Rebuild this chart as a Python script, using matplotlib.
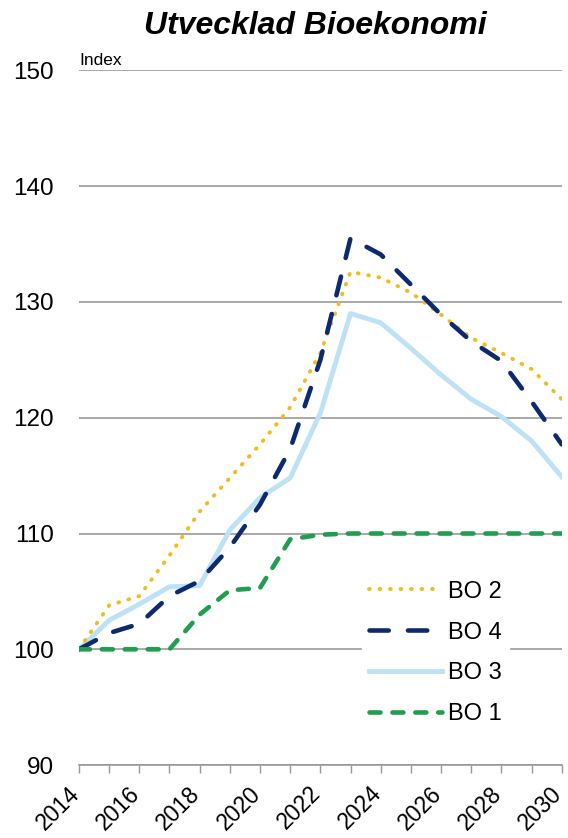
import matplotlib
matplotlib.use("Agg")
import matplotlib.pyplot as plt
from matplotlib.transforms import ScaledTranslation

years = list(range(2014, 2031))
bo2 = [100.0, 103.8, 104.6, 108.1, 111.9, 114.8, 117.7, 120.9, 125.6, 132.6, 132.1, 130.8, 128.9, 126.9, 125.6, 124.2, 121.6]
bo4 = [100.0, 101.4, 102.2, 104.6, 105.9, 108.8, 112.5, 117.3, 125.0, 135.5, 134.1, 131.5, 128.9, 126.6, 124.9, 121.4, 117.7]
bo3 = [100.0, 102.5, 103.9, 105.4, 105.5, 110.3, 113.1, 114.8, 120.4, 129.0, 128.2, 126.0, 123.7, 121.6, 120.1, 118.0, 114.9]
bo1 = [100.0, 100.0, 100.0, 100.0, 103.0, 105.1, 105.3, 109.5, 109.9, 110.0, 110.0, 110.0, 110.0, 110.0, 110.0, 110.0, 110.0]
yticks = [90, 100, 110, 120, 130, 140, 150]
xticks = list(range(2014, 2031, 2))

plt.rcParams['font.family'] = ['Liberation Sans', 'DejaVu Sans']

fig = plt.figure(figsize=(5.68, 8.38), dpi=100)
ax = fig.add_axes([0.139, 0.087, 0.850, 0.829])

ax.plot(years, bo2, color='#F3BC1C', lw=2.8, linestyle=(0, (0.2, 2.5)), dash_capstyle='round', label='BO 2', zorder=4)
ax.plot(years, bo4, color='#0E2A6E', lw=3.3, linestyle=(0, (4.2, 4.2)), dash_capstyle='round', label='BO 4', zorder=5)
ax.plot(years, bo3, color='#BEE2F5', lw=3.5, linestyle='-', label='BO 3', zorder=3)
ax.plot(years, bo1, color='#1E9E4E', lw=3.3, linestyle=(0, (2.4, 2.6)), dash_capstyle='round', label='BO 1', zorder=6)

ax.set_xlim(2014, 2030)
ax.set_ylim(90, 150)
ax.set_yticks(yticks)
ax.set_xticks(years)
ax.set_xticklabels([str(y) if y in xticks else '' for y in years], rotation=45, ha='right', va='center',
                   rotation_mode='anchor', fontsize=16.5)
ax.tick_params(axis='x', direction='out', length=6, color='#999999', width=1, pad=12)
ax.tick_params(axis='y', length=0, labelsize=17.5, pad=18)
off = ScaledTranslation(-3 / 100, 0, fig.dpi_scale_trans)
for lab in ax.get_xticklabels():
    lab.set_transform(lab.get_transform() + off)
ax.grid(axis='y', color='#999999', lw=1.2, zorder=0)
ax.set_axisbelow(True)
for s in ['top', 'right', 'left']:
    ax.spines[s].set_visible(False)
ax.spines['bottom'].set_color('#999999')
ax.spines['bottom'].set_linewidth(1.2)

ax.text(0.0, 1.004, 'Index', transform=ax.transAxes, fontsize=12.5, ha='left', va='bottom')
fig.text(0.555, 0.969, 'Utvecklad Bioekonomi', fontsize=23, fontweight='bold', fontstyle='italic', ha='center', va='center')

leg = ax.legend(loc='lower right', bbox_to_anchor=(0.915, 0.03), frameon=True, fontsize=17,
                handlelength=3.1, handletextpad=0.25, labelspacing=0.8, borderpad=0.3)
leg.get_frame().set_facecolor('white')
leg.get_frame().set_edgecolor('white')
leg.get_frame().set_alpha(1)

fig.savefig('out.png', dpi=100)
